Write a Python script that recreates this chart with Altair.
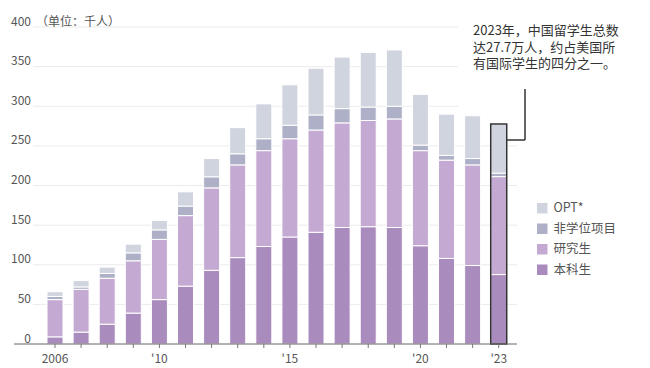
import altair as alt
import pandas as pd

# ---- data (thousands of students) ----
years = list(range(2006, 2024))
undergrad = [9, 15, 25, 39, 56, 73, 93, 109, 123, 135, 141, 147, 148, 147, 124, 108, 99, 87.6]
graduate = [47, 54, 58, 66, 76, 89, 104, 117, 121, 124, 129, 132, 134, 137, 120, 124, 127, 123.6]
nondegree = [4, 3, 6, 10, 12, 12, 14, 14, 15, 17, 19, 18, 17, 16, 7, 6, 8, 4.4]
opt = [6, 8, 8, 11, 12, 18, 23, 33, 44, 51, 59, 65, 69, 71, 64, 52, 54, 61.9]

stack_cats = ["本科生", "研究生", "非学位项目", "OPT*"]
legend_cats = ["OPT*", "非学位项目", "研究生", "本科生"]
legend_colors = ["#d0d4df", "#adb0c6", "#c4aad2", "#a98bbd"]

y_ticks = [0, 50, 100, 150, 200, 250, 300, 350, 400]
grid_long = [50, 100, 150, 200, 250]
grid_short = [300, 350, 400]
x_label_years = [2006, 2010, 2015, 2020, 2023]
x_label_text = ["2006", "'10", "'15", "'20", "'23"]
unit_text = "（单位：千人）"
note_lines = ["2023年，中国留学生总数", "达27.7万人，约占美国所", "有国际学生的四分之一。"]
highlight_year = 2023

FONT = "Noto Sans CJK SC"
W, H = 484, 317

rows = []
for i, yr in enumerate(years):
    for k, (cat, vals) in enumerate(zip(stack_cats, [undergrad, graduate, nondegree, opt])):
        rows.append({"year": yr, "cat": cat, "value": vals[i], "rank": k})
df = pd.DataFrame(rows)

hi = years.index(highlight_year)
total_hi = undergrad[hi] + graduate[hi] + nondegree[hi] + opt[hi]

xscale = alt.Scale(domain=[2005.157, 2023.70], nice=False, zero=False, padding=0)
yscale = alt.Scale(domain=[0, 400], nice=False, padding=0)

grid1 = alt.Chart(pd.DataFrame({"v": grid_long})).mark_rule(color="#ebebeb", strokeWidth=1).encode(
    y=alt.Y("v:Q", scale=yscale, axis=None), x=alt.value(0), x2=alt.value(W)
)
grid2 = alt.Chart(pd.DataFrame({"v": grid_short})).mark_rule(color="#ebebeb", strokeWidth=1).encode(
    y=alt.Y("v:Q", scale=yscale, axis=None), x=alt.value(0), x2=alt.value(425)
)

bars = alt.Chart(df).mark_bar(width=16, stroke="white", strokeWidth=1).encode(
    x=alt.X("year:Q", scale=xscale, axis=None),
    y=alt.Y("value:Q", stack="zero", scale=yscale, axis=None),
    color=alt.Color(
        "cat:N",
        scale=alt.Scale(domain=legend_cats, range=legend_colors),
        legend=alt.Legend(
            title=None, orient="none", legendX=503, legendY=175, symbolType="square",
            symbolSize=110, symbolStrokeWidth=0, symbolOpacity=1, labelFontSize=12.5,
            labelColor="#555", labelFont=FONT, labelOffset=5, rowPadding=7.5, padding=0,
        ),
    ),
    order=alt.Order("rank:Q", sort="ascending"),
)

outline = alt.Chart(pd.DataFrame({"year": [highlight_year], "total": [total_hi]})).mark_bar(
    width=16, fill="transparent", stroke="#333", strokeWidth=1.5
).encode(
    x=alt.X("year:Q", scale=xscale, axis=None),
    y=alt.Y("total:Q", scale=yscale, axis=None),
)

domain_line = alt.Chart(pd.DataFrame({"v": [0]})).mark_rule(color="#666", strokeWidth=1).encode(
    y=alt.Y("v:Q", scale=yscale, axis=None), x=alt.value(-19), x2=alt.value(W)
)

x_ticks = alt.Chart(pd.DataFrame({"year": years})).mark_rule(color="#777", strokeWidth=1).encode(
    x=alt.X("year:Q", scale=xscale, axis=None), y=alt.value(H), y2=alt.value(H + 4)
)

x_text = alt.Chart(pd.DataFrame({"year": x_label_years, "t": x_label_text})).mark_text(
    align="center", baseline="middle", fontSize=12, color="#555", font=FONT
).encode(x=alt.X("year:Q", scale=xscale, axis=None), y=alt.value(H + 15), text="t:N")

y_text = alt.Chart(pd.DataFrame({"v": y_ticks})).mark_text(
    align="right", baseline="alphabetic", dy=-1.5, fontSize=12, color="#555", font=FONT
).encode(y=alt.Y("v:Q", scale=yscale, axis=None), x=alt.value(-2), text="v:Q")

conn_h = alt.Chart(pd.DataFrame({"a": [0]})).mark_rule(color="#333", strokeWidth=1.5).encode(
    x=alt.value(474), x2=alt.value(492), y=alt.value(113)
)
conn_v = alt.Chart(pd.DataFrame({"a": [0]})).mark_rule(color="#333", strokeWidth=1.5).encode(
    x=alt.value(492), y=alt.value(62), y2=alt.value(113)
)

note_layers = []
for line, ypos in zip(note_lines, [4.0, 20.5, 36.5]):
    note_layers.append(
        alt.Chart(pd.DataFrame({"t": [line]})).mark_text(
            align="left", baseline="middle", fontSize=13, color="#333", font=FONT
        ).encode(x=alt.value(440), y=alt.value(ypos), text="t:N")
    )

unit = alt.Chart(pd.DataFrame({"t": [unit_text]})).mark_text(
    align="left", baseline="alphabetic", dy=-1.5, fontSize=12, color="#555", font=FONT
).encode(x=alt.value(3), y=alt.value(0), text="t:N")

chart = alt.layer(
    grid1, grid2, bars, outline, domain_line, x_ticks, x_text, y_text,
    conn_h, conn_v, *note_layers, unit,
).properties(
    width=W,
    height=H,
    autosize=alt.AutoSizeParams(type="none"),
    padding={"left": 25, "top": 19, "right": 125, "bottom": 26},
    background="white",
).configure_view(stroke=None)

chart.save("out.html", embed_options={"renderer": "svg", "actions": False})
